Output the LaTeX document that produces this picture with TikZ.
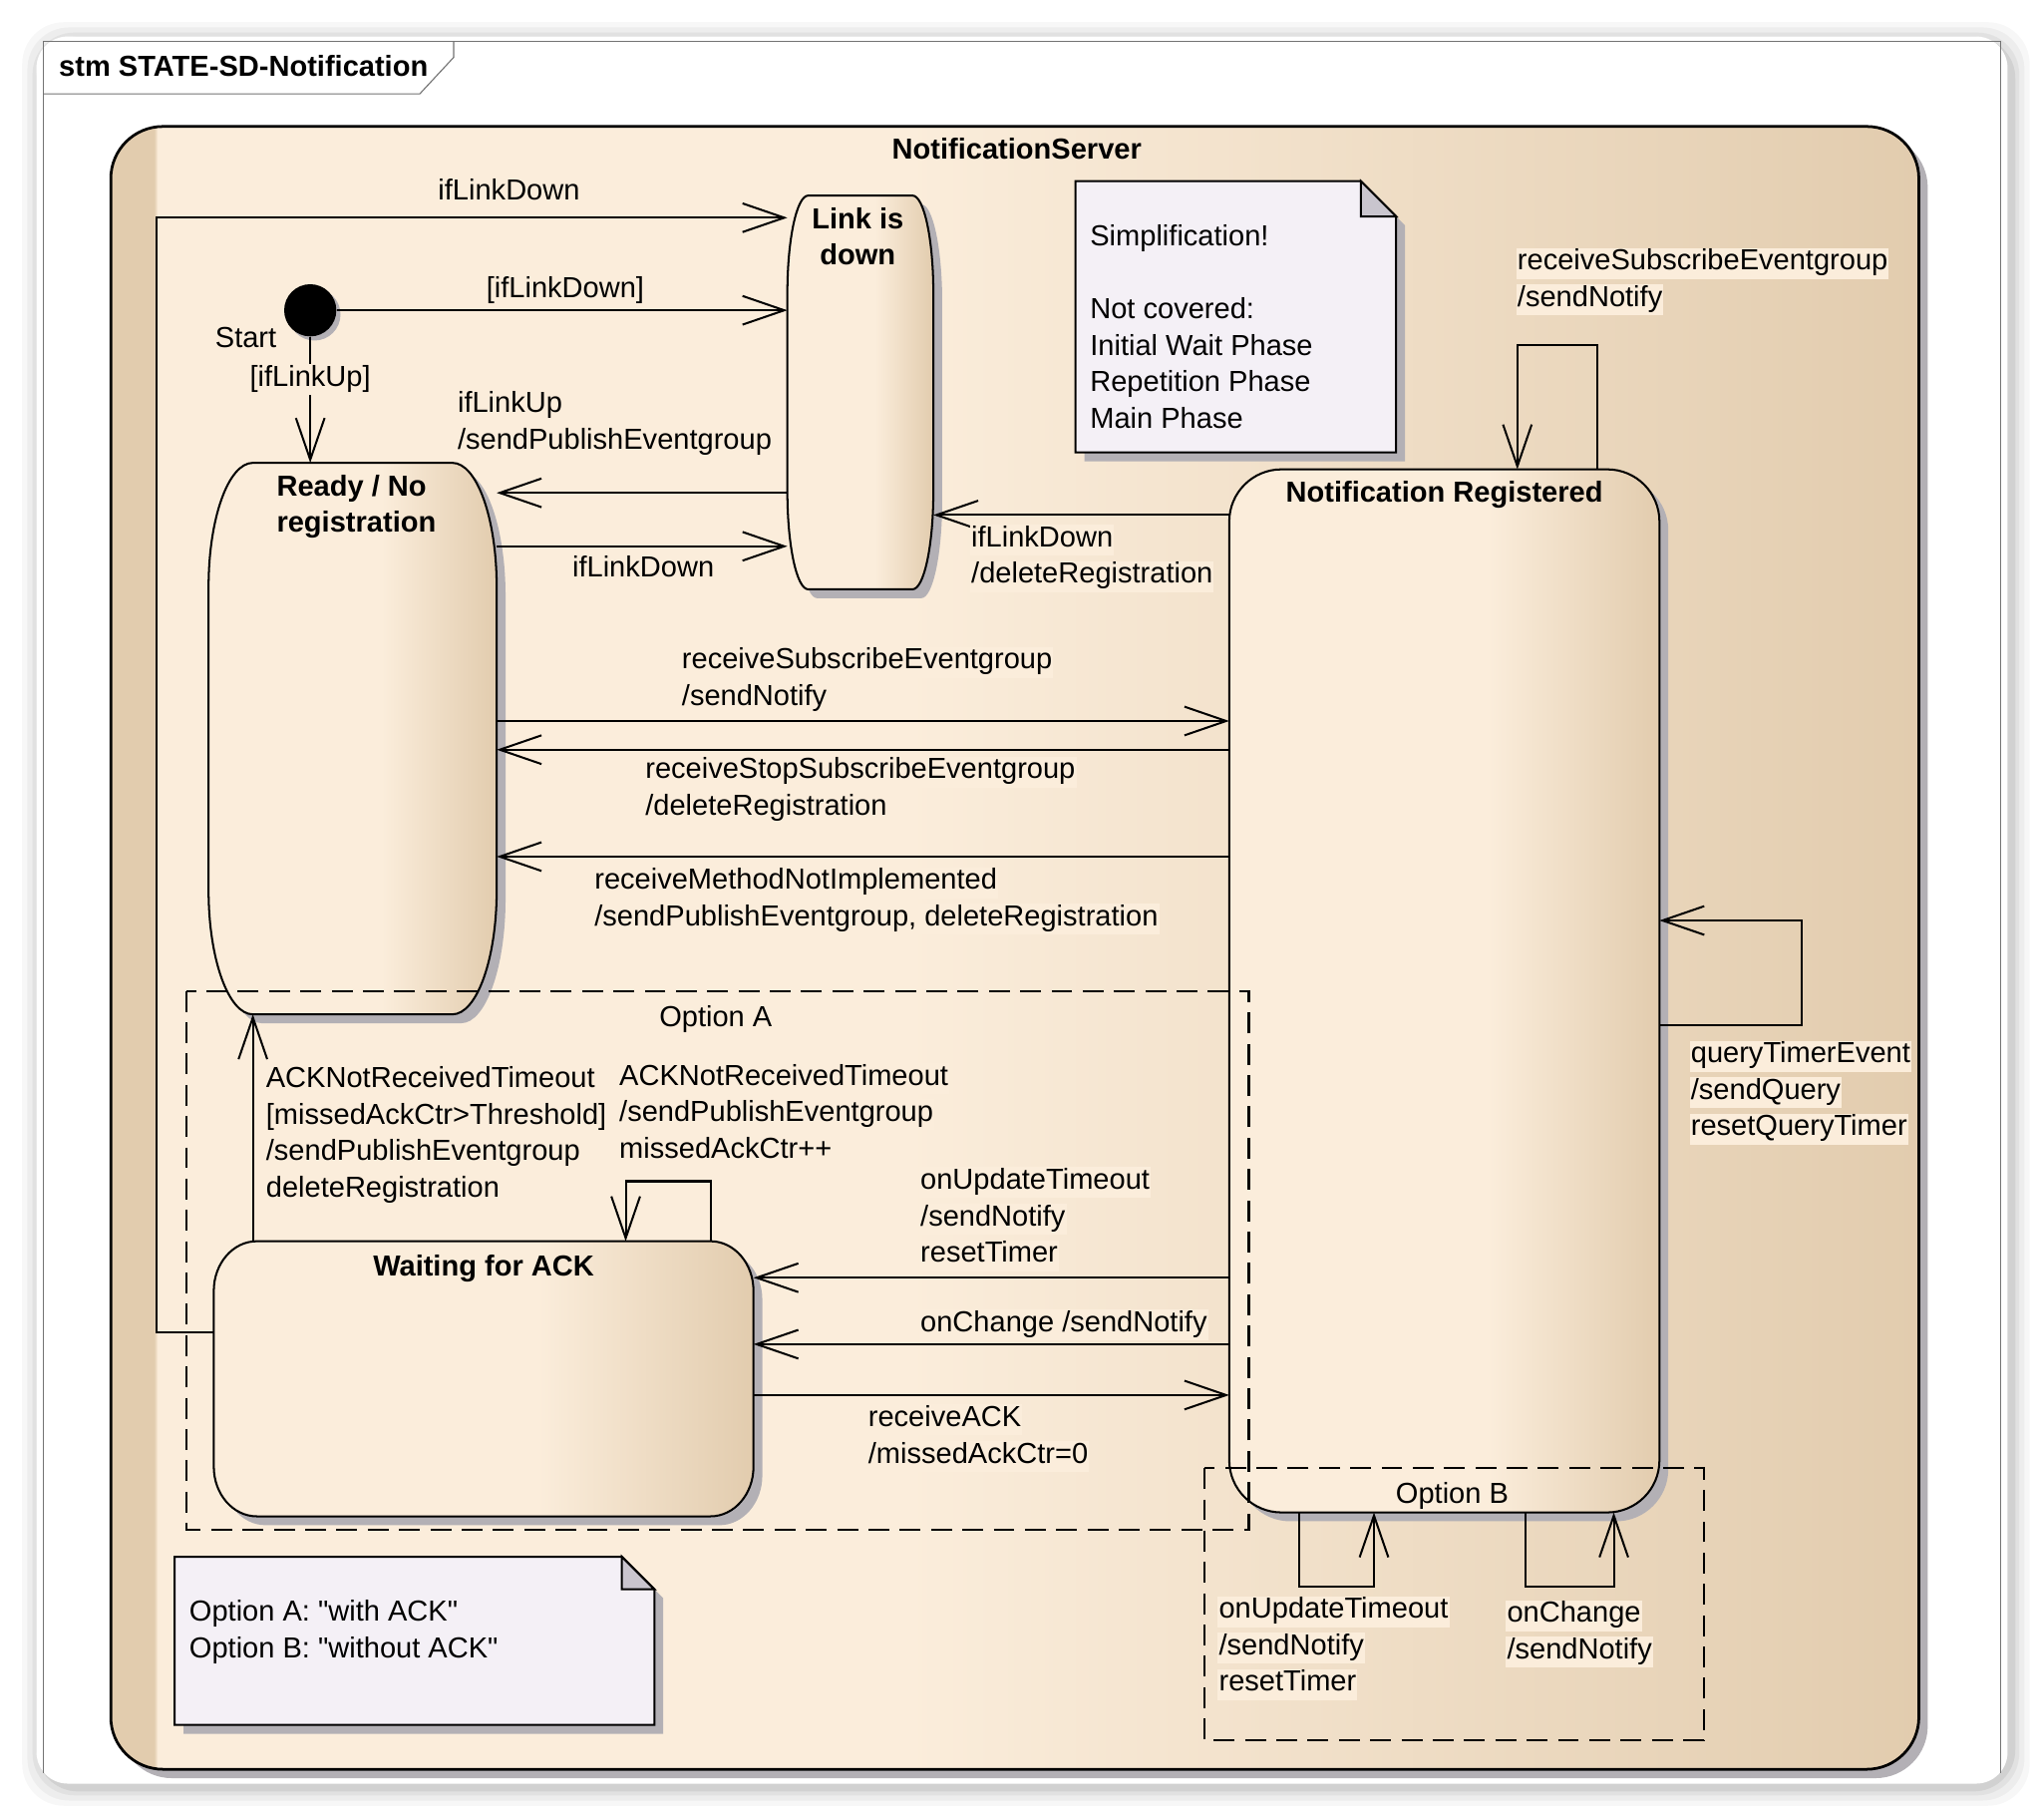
\documentclass[tikz,border=0pt]{standalone}
\usepackage{fontspec}
\setmainfont{Liberation Sans}[Ligatures=TeXOff]
\usetikzlibrary{arrows.meta,calc,fit,shadows}
\definecolor{stlight}{HTML}{FBEDDB}
\definecolor{stdark}{HTML}{E2CCAE}
\definecolor{shadowgray}{HTML}{B3B0B5}
\definecolor{notefill}{HTML}{F4F0F6}
\definecolor{foldgray}{HTML}{C9C5CE}
\pgfdeclarehorizontalshading{stateshade}{100bp}{color(0bp)=(stlight); color(25bp)=(stlight); color(55bp)=(stlight); color(75bp)=(stdark); color(100bp)=(stdark)}
\pgfdeclarehorizontalshading{compshade}{100bp}{color(0bp)=(stdark); color(26.2bp)=(stdark); color(26.3bp)=(stlight); color(47bp)=(stlight); color(75bp)=(stdark); color(100bp)=(stdark)}
\newcommand\lbl{\fontsize{15.8}{19.9}\selectfont}
\setlength\fboxsep{0.6pt}
\newcommand\hl[1]{\colorbox{stlight}{\rule[-4.2pt]{0pt}{14.2pt}#1}}
\newcommand\stateshape[3]{%
  \draw[statebody] ($(#1.north west)+(#2,0)$) -- ($(#1.north east)+(-#2,0)$)
    arc[start angle=90,end angle=0,x radius=#2,y radius=#3]
    -- ($(#1.south east)+(0,#3)$)
    arc[start angle=0,end angle=-90,x radius=#2,y radius=#3]
    -- ($(#1.south west)+(#2,0)$)
    arc[start angle=270,end angle=180,x radius=#2,y radius=#3]
    -- ($(#1.north west)+(0,-#3)$)
    arc[start angle=180,end angle=90,x radius=#2,y radius=#3] -- cycle;}

\begin{document}
\begin{tikzpicture}[x=0.025cm,y=0.025cm,
    >={Straight Barb[length=0.8cm,width=0.55cm]},
    every node/.style={font=\lbl},
    area/.style={inner sep=0pt,outer sep=0pt},
    shadowed/.style={general shadow={fill=shadowgray,shadow xshift=0.17cm,shadow yshift=-0.17cm}},
    compbody/.style={draw,line width=1.5pt,rounded corners=1cm,shade,shading=compshade,shadowed},
    statebody/.style={draw,line width=1.1pt,shade,shading=stateshade,shadowed},
    notebody/.style={draw,line width=1.1pt,fill=notefill,shadowed},
    optbox/.style={draw,line width=1.1pt,dash pattern=on 0.4cm off 0.2cm},
    flow/.style={line width=1.1pt,->},
    framelines/.style={draw=black!55,line width=0.6pt},
    statetitle/.style={font=\bfseries\lbl,align=center,anchor=north,inner sep=0pt},
    trans/.style={anchor=north west,align=left,inner sep=0pt},
    notetext/.style={anchor=north west,align=left,inner sep=0pt}]
    \useasboundingbox (0,0) rectangle (1568,-1392);
    \foreach \d/\op in {14/0.03,10/0.04,6/0.05,3/0.07}
        \fill[black,opacity=\op,rounded corners=0.8cm] ({28-\d+3},{-28+\d-3}) rectangle ({1540+\d+3},{-1368-\d-3});
    \fill[white,rounded corners=0.6cm] (28,-28) rectangle (1540,-1368);
    \draw[framelines] (33,-1360) -- (33,-32) -- (1535,-32) -- (1535,-1360);
    \draw[framelines] (33,-72) -- (322,-72) -- (348,-44) -- (348,-32);
    \node[statetitle,anchor=north west] (stm) at (45,-42) {stm STATE-SD-Notification};

    \node[area,fit={(85,-97) (1472,-1357)}] (comp) {};
    \draw[compbody] (comp.north west) rectangle (comp.south east);
    \node[statetitle] (comptitle) at (780,-106) {NotificationServer};

    \node[area,fit={(604,-150) (716,-452)}] (link) {};
    \node[area,fit={(160,-355) (381,-778)}] (ready) {};
    \node[area,fit={(943,-360) (1273,-1160)}] (notif) {};
    \node[area,fit={(164,-952) (578,-1163)}] (waiting) {};
    \stateshape{link}{16}{75}
    \stateshape{ready}{34}{95}
    \stateshape{notif}{40}{40}
    \stateshape{waiting}{33}{38}
    \node[statetitle] (linktitle) at (658,-159) {Link is\\down};
    \node[statetitle,anchor=north west,align=left] (readytitle) at (212,-364) {Ready / No\\registration};
    \node[statetitle] (notiftitle) at (1108,-369) {Notification Registered};
    \node[statetitle] (waitingtitle) at (371,-962) {Waiting for ACK};

    \node[area,fit={(825,-139) (1071,-347)}] (simp) {};
    \draw[notebody] (simp.north west) -- ($(simp.north east)+(-27,0)$) -- ($(simp.north east)+(0,-27)$) |- (simp.south west) -- cycle;
    \draw[line width=1.1pt,fill=foldgray] ($(simp.north east)+(-27,0)$) -- ++(0,-27) -- ++(27,0) -- cycle;
    \node[notetext] (simptext) at (836,-172) {Simplification!\\[0.7cm]Not covered:\\Initial Wait Phase\\Repetition Phase\\Main Phase};
    \node[area,fit={(134,-1194) (502,-1323)}] (optnote) {};
    \draw[notebody] (optnote.north west) -- ($(optnote.north east)+(-25,0)$) -- ($(optnote.north east)+(0,-25)$) |- (optnote.south west) -- cycle;
    \draw[line width=1.1pt,fill=foldgray] ($(optnote.north east)+(-25,0)$) -- ++(0,-25) -- ++(25,0) -- cycle;
    \node[notetext] (opttext) at (145,-1227) {Option A: "with ACK"\\Option B: "without ACK"};

    \node[circle,fill=black,minimum size=1cm,inner sep=0pt,general shadow={fill=shadowgray,shadow xshift=0.08cm,shadow yshift=-0.08cm}] (start) at (238,-238) {};

    \node[area,fit={(143,-760) (958,-1173)}] (optA) {};
    \draw[optbox] (optA.north west) rectangle (optA.south east);
    \node[anchor=north,inner sep=0pt] (optAlbl) at (549,-771) {Option A};
    \node[area,fit={(924,-1126) (1307,-1335)}] (optB) {};
    \draw[optbox] (optB.north west) rectangle (optB.south east);
    \node[anchor=north,inner sep=0pt] (optBlbl) at (1114,-1137) {Option B};

    \draw[flow] (waiting.west |- 0,-1022) -| (120,-167) -- (link.west |- 0,-167);
    \draw[flow] (start) -- (link.west |- start);
    \draw[flow] (start) -- (ready.north -| start);
    \draw[flow] (link.west |- 0,-378) -- (ready.east |- 0,-378);
    \draw[flow] (ready.east |- 0,-419) -- (link.west |- 0,-419);
    \draw[flow] (notif.west |- 0,-395) -- (link.east |- 0,-395);
    \draw[flow] (ready.east |- 0,-553) -- (notif.west |- 0,-553);
    \draw[flow] (notif.west |- 0,-575) -- (ready.east |- 0,-575);
    \draw[flow] (notif.west |- 0,-657) -- (ready.east |- 0,-657);
    \draw[flow] (notif.north -| 1225,0) |- (1164,-265) -- (notif.north -| 1164,0);
    \draw[flow] (notif.east |- 0,-786) -| (1382,-706) -- (notif.east |- 0,-706);
    \draw[flow] (waiting.north -| 194,0) -- (ready.south -| 194,0);
    \draw[flow] (waiting.north -| 545,0) |- (480,-906) -- (waiting.north -| 480,0);
    \draw[flow] (notif.west |- 0,-980) -- (waiting.east |- 0,-980);
    \draw[flow] (notif.west |- 0,-1031) -- (waiting.east |- 0,-1031);
    \draw[flow] (waiting.east |- 0,-1070) -- (notif.west |- 0,-1070);
    \draw[flow] (notif.south -| 997,0) |- (1054,-1217) -- (notif.south -| 1054,0);
    \draw[flow] (notif.south -| 1170,0) |- (1238,-1217) -- (notif.south -| 1238,0);

    \node[trans] (t1) at (335,-136) {\hl{ifLinkDown}};
    \node[trans] (t2) at (372,-211) {\hl{[ifLinkDown]}};
    \node[trans] (startlbl) at (164,-250) {\hl{Start}};
    \node[trans,anchor=north] (t3) at (238,-279) {\hl{[ifLinkUp]}};
    \node[trans] (t4) at (350,-299) {\hl{ifLinkUp}\\\hl{/sendPublishEventgroup}};
    \node[trans] (t5) at (438,-425) {\hl{ifLinkDown}};
    \node[trans] (t6) at (744,-402) {\hl{ifLinkDown}\\\hl{/deleteRegistration}};
    \node[trans] (t7) at (522,-496) {\hl{receiveSubscribeEventgroup}\\\hl{/sendNotify}};
    \node[trans] (t8) at (494,-580) {\hl{receiveStopSubscribeEventgroup}\\\hl{/deleteRegistration}};
    \node[trans] (t9) at (455,-665) {\hl{receiveMethodNotImplemented}\\\hl{/sendPublishEventgroup, deleteRegistration}};
    \node[trans] (t10) at (1163,-190) {\hl{receiveSubscribeEventgroup}\\\hl{/sendNotify}};
    \node[trans] (t11) at (1296,-798) {\hl{queryTimerEvent}\\\hl{/sendQuery}\\\hl{resetQueryTimer}};
    \node[trans] (t12) at (203,-817) {\hl{ACKNotReceivedTimeout}\\\hl{[missedAckCtr>Threshold]}\\\hl{/sendPublishEventgroup}\\\hl{deleteRegistration}};
    \node[trans] (t13) at (474,-815) {\hl{ACKNotReceivedTimeout}\\\hl{/sendPublishEventgroup}\\\hl{missedAckCtr++}};
    \node[trans] (t14) at (705,-895) {\hl{onUpdateTimeout}\\\hl{/sendNotify}\\\hl{resetTimer}};
    \node[trans] (t15) at (705,-1004) {\hl{onChange /sendNotify}};
    \node[trans] (t16) at (665,-1077) {\hl{receiveACK}\\\hl{/missedAckCtr=0}};
    \node[trans] (t17) at (934,-1224) {\hl{onUpdateTimeout}\\\hl{/sendNotify}\\\hl{resetTimer}};
    \node[trans] (t18) at (1155,-1227) {\hl{onChange}\\\hl{/sendNotify}};
\end{tikzpicture}
\end{document}
